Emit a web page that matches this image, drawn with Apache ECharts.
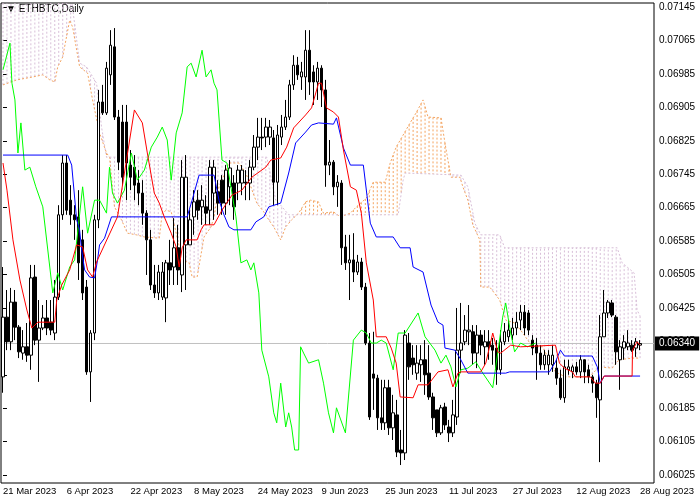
<!DOCTYPE html>
<html>
<head>
<meta charset="utf-8">
<script src="https://cdn.jsdelivr.net/npm/echarts@6/dist/echarts.min.js"></script>
<style>
  html, body { margin: 0; padding: 0; background: #fff; }
  #chart { width: 700px; height: 500px; }
</style>
</head>
<body>
<div id="chart"></div>
<script>
// 日线：2023-03-21 起，共 161 根，右侧留 3 格空位
const startDate = new Date(Date.UTC(2023, 2, 21))
const dayCount = 161
const slotCount = 164
const monthNames = ['Jan', 'Feb', 'Mar', 'Apr', 'May', 'Jun', 'Jul', 'Aug', 'Sep', 'Oct', 'Nov', 'Dec']
const dates = []
for (let i = 0; i < slotCount; i++) {
  const d = new Date(startDate.getTime() + i * 86400000)
  dates.push(d.getUTCDate() + ' ' + monthNames[d.getUTCMonth()] + ' ' + d.getUTCFullYear())
}

// K 线 [open, close, low, high]
const candles = [
  [0.06260,0.06403,0.06222,0.06523],[0.06403,0.06344,0.06324,0.06468],[0.06344,0.06439,0.06324,0.06473],[0.06439,0.06379,0.06348,0.06468],
  [0.06379,0.06320,0.06305,0.06384],[0.06317,0.06332,0.06301,0.06372],[0.06332,0.06312,0.06296,0.06389],[0.06312,0.06497,0.06277,0.06528],
  [0.06499,0.06348,0.06336,0.06528],[0.06348,0.06377,0.06248,0.06444],[0.06377,0.06401,0.06372,0.06432],[0.06401,0.06377,0.06360,0.06444],
  [0.06391,0.06372,0.06360,0.06444],[0.06365,0.06451,0.06348,0.06492],[0.06451,0.06648,0.06444,0.06671],[0.06648,0.06772,0.06636,0.06791],
  [0.06772,0.06659,0.06648,0.06791],[0.06683,0.06648,0.06624,0.06719],[0.06648,0.06636,0.06588,0.06671],[0.06643,0.06533,0.06492,0.06707],
  [0.06588,0.06461,0.06444,0.06612],[0.06475,0.06272,0.06265,0.06492],[0.06272,0.06365,0.06200,0.06372],[0.06365,0.06636,0.06348,0.06648],
  [0.06636,0.06918,0.06616,0.06947],[0.06918,0.06892,0.06887,0.06959],[0.06892,0.06999,0.06887,0.07014],[0.06983,0.07054,0.06959,0.07090],
  [0.07050,0.06882,0.06875,0.07095],[0.06882,0.06774,0.06755,0.06899],[0.06870,0.06738,0.06719,0.06911],[0.06870,0.06772,0.06683,0.06911],
  [0.06767,0.06738,0.06707,0.06803],[0.06762,0.06719,0.06683,0.06791],[0.06724,0.06700,0.06671,0.06755],[0.06700,0.06652,0.06624,0.06731],
  [0.06652,0.06588,0.06504,0.06659],[0.06588,0.06480,0.06468,0.06612],[0.06480,0.06461,0.06449,0.06528],[0.06461,0.06511,0.06444,0.06528],
  [0.06451,0.06511,0.06444,0.06535],[0.06449,0.06533,0.06391,0.06540],[0.06533,0.06516,0.06480,0.06588],[0.06523,0.06569,0.06480,0.06640],
  [0.06569,0.06516,0.06480,0.06624],[0.06504,0.06738,0.06463,0.06779],[0.06576,0.06738,0.06468,0.06791],[0.06576,0.06636,0.06576,0.06659],
  [0.06643,0.06679,0.06600,0.06707],[0.06683,0.06659,0.06636,0.06707],[0.06667,0.06683,0.06624,0.06719],[0.06667,0.06652,0.06624,0.06695],
  [0.06659,0.06762,0.06624,0.06779],[0.06700,0.06762,0.06636,0.06779],[0.06703,0.06676,0.06648,0.06731],[0.06731,0.06676,0.06648,0.06743],
  [0.06676,0.06755,0.06648,0.06767],[0.06715,0.06760,0.06671,0.06779],[0.06724,0.06667,0.06636,0.06743],[0.06724,0.06755,0.06683,0.06767],
  [0.06724,0.06755,0.06695,0.06767],[0.06726,0.06724,0.06683,0.06755],[0.06724,0.06762,0.06683,0.06779],[0.06762,0.06810,0.06755,0.06839],
  [0.06810,0.06834,0.06779,0.06880],[0.06834,0.06832,0.06803,0.06880],[0.06834,0.06858,0.06810,0.06880],[0.06834,0.06858,0.06815,0.06875],
  [0.06832,0.06726,0.06671,0.06851],[0.06726,0.06839,0.06671,0.06863],[0.06834,0.06858,0.06815,0.06887],[0.06858,0.06882,0.06851,0.06923],
  [0.06882,0.06959,0.06875,0.06971],[0.06959,0.07006,0.06947,0.07030],[0.07006,0.06983,0.06971,0.07026],[0.06978,0.06990,0.06947,0.07014],
  [0.06978,0.07042,0.06923,0.07090],[0.07042,0.06966,0.06935,0.07090],[0.06990,0.06966,0.06911,0.07006],[0.06966,0.06999,0.06923,0.07014],
  [0.06999,0.06947,0.06906,0.07006],[0.06947,0.06767,0.06715,0.06971],[0.06767,0.06774,0.06743,0.06827],[0.06774,0.06715,0.06695,0.06779],
  [0.06715,0.06726,0.06667,0.06743],[0.06724,0.06569,0.06528,0.06731],[0.06571,0.06533,0.06516,0.06600],[0.06533,0.06540,0.06444,0.06600],
  [0.06540,0.06511,0.06487,0.06604],[0.06511,0.06535,0.06504,0.06552],[0.06535,0.06475,0.06468,0.06545],[0.06475,0.06341,0.06336,0.06485],
  [0.06341,0.06164,0.06157,0.06365],[0.06267,0.06257,0.06181,0.06368],[0.06257,0.06162,0.06133,0.06265],[0.06162,0.06150,0.06133,0.06253],
  [0.06150,0.06234,0.06133,0.06253],[0.06234,0.06138,0.06121,0.06253],[0.06138,0.06174,0.06109,0.06217],[0.06169,0.06080,0.06068,0.06205],
  [0.06085,0.06078,0.06049,0.06133],[0.06078,0.06360,0.06061,0.06372],[0.06341,0.06284,0.06253,0.06365],[0.06305,0.06289,0.06265,0.06336],
  [0.06269,0.06293,0.06253,0.06336],[0.06289,0.06301,0.06248,0.06336],[0.06301,0.06265,0.06217,0.06348],[0.06269,0.06212,0.06205,0.06336],
  [0.06212,0.06162,0.06133,0.06222],[0.06181,0.06126,0.06116,0.06181],[0.06126,0.06186,0.06121,0.06193],[0.06188,0.06145,0.06133,0.06198],
  [0.06140,0.06126,0.06104,0.06157],[0.06126,0.06169,0.06116,0.06205],[0.06164,0.06324,0.06145,0.06425],[0.06324,0.06341,0.06269,0.06437],
  [0.06344,0.06372,0.06336,0.06408],[0.06368,0.06372,0.06336,0.06432],[0.06368,0.06317,0.06289,0.06384],[0.06317,0.06360,0.06281,0.06384],
  [0.06360,0.06336,0.06312,0.06372],[0.06332,0.06344,0.06289,0.06372],[0.06344,0.06332,0.06301,0.06372],[0.06336,0.06324,0.06289,0.06353],
  [0.06329,0.06277,0.06241,0.06348],[0.06277,0.06344,0.06265,0.06372],[0.06344,0.06368,0.06336,0.06389],[0.06356,0.06372,0.06344,0.06396],
  [0.06360,0.06377,0.06348,0.06401],[0.06377,0.06391,0.06360,0.06415],[0.06396,0.06415,0.06372,0.06432],[0.06415,0.06377,0.06360,0.06432],
  [0.06413,0.06372,0.06360,0.06420],[0.06348,0.06329,0.06312,0.06360],[0.06336,0.06317,0.06253,0.06353],[0.06317,0.06289,0.06277,0.06336],
  [0.06289,0.06312,0.06277,0.06324],[0.06289,0.06312,0.06265,0.06324],[0.06289,0.06312,0.06272,0.06336],[0.06281,0.06257,0.06241,0.06301],
  [0.06257,0.06210,0.06205,0.06277],[0.06210,0.06284,0.06198,0.06301],[0.06277,0.06284,0.06265,0.06301],[0.06272,0.06284,0.06257,0.06289],
  [0.06284,0.06272,0.06265,0.06296],[0.06272,0.06301,0.06257,0.06312],[0.06301,0.06272,0.06245,0.06301],[0.06277,0.06260,0.06245,0.06289],
  [0.06260,0.06245,0.06222,0.06265],[0.06245,0.06210,0.06162,0.06253],[0.06205,0.06356,0.06056,0.06408],[0.06356,0.06413,0.06356,0.06468],
  [0.06413,0.06439,0.06401,0.06444],[0.06437,0.06408,0.06403,0.06444],[0.06403,0.06320,0.06289,0.06408],[0.06301,0.06332,0.06229,0.06348],
  [0.06329,0.06344,0.06301,0.06360],[0.06332,0.06341,0.06324,0.06372],[0.06336,0.06324,0.06320,0.06348],[0.06329,0.06344,0.06308,0.06353],
  [0.06336,0.06340,0.06324,0.06348]
]

// Ichimoku 各线拐点 [日序号, 价格]
const tenkan = [
  [0,0.06772],[1,0.06707],[2.5,0.06588],[4.25,0.06492],[6,0.06420],[7.25,0.06377],[8.75,0.06391],[13,0.06391],[13.5,0.06444],
  [14.75,0.06480],[16.75,0.06516],[18.5,0.06576],[20,0.06571],[21.25,0.06516],[22.5,0.06499],[23.5,0.06535],[28.75,0.06643],
  [30.5,0.06748],[33,0.06899],[35,0.06868],[36.25,0.06796],[38,0.06700],[39.25,0.06676],[40.5,0.06643],[42.25,0.06604],
  [43.5,0.06571],[44.25,0.06523],[45,0.06569],[46,0.06588],[48.75,0.06588],[49.75,0.06612],[50.5,0.06624],[53,0.06624],
  [53.5,0.06628],[55,0.06659],[57.5,0.06695],[60,0.06707],[62.5,0.06738],[66,0.06762],[67.25,0.06779],[69.75,0.06784],
  [71.25,0.06810],[73,0.06856],[76,0.06887],[77.5,0.06904],[79.25,0.06963],[80,0.06963],[81.25,0.06904],[83,0.06894],
  [84.25,0.06882],[85.5,0.06803],[87.25,0.06715],[88.75,0.06707],[90,0.06652],[91.25,0.06533],[93,0.06444],[93.75,0.06356],
  [96.25,0.06356],[97.5,0.06329],[98.75,0.06293],[99.75,0.06212],[103,0.06210],[104.25,0.06241],[106.75,0.06241],
  [109.25,0.06272],[111.75,0.06277],[113,0.06236],[114.25,0.06269],[115,0.06272],[120,0.06272],[121.25,0.06293],
  [123,0.06365],[124.25,0.06320],[125,0.06317],[127.5,0.06336],[130,0.06332],[138.75,0.06336],[139.75,0.06293],
  [141,0.06281],[143,0.06272],[143.75,0.06260],[147.5,0.06260],[148.75,0.06245],[150,0.06245],[151,0.06262],
  [158,0.06262],[158.1,0.06324],[159.25,0.06344],[160,0.06336]
]
const kijun = [
  [0,0.06791],[16.25,0.06791],[17.25,0.06767],[18.5,0.06636],[19.25,0.06612],[19.75,0.06564],[20.5,0.06516],[21.75,0.06499],
  [23,0.06497],[23.75,0.06540],[24.25,0.06576],[25.5,0.06592],[27.25,0.06643],[46.25,0.06643],[47.5,0.06683],[49.25,0.06743],
  [53,0.06743],[54.25,0.06683],[55.5,0.06648],[56.75,0.06619],[58,0.06612],[62.25,0.06612],[63.5,0.06631],[65.5,0.06643],
  [66.75,0.06667],[69.75,0.06676],[71.75,0.06748],[73.5,0.06820],[76,0.06846],[77.5,0.06863],[79.25,0.06868],[83,0.06865],
  [83.75,0.06880],[85.5,0.06808],[87.25,0.06767],[90.5,0.06767],[92.25,0.06628],[93.75,0.06595],[98,0.06595],[99.75,0.06569],
  [102.25,0.06569],[103,0.06523],[105.5,0.06511],[106,0.06509],[107.5,0.06432],[109.25,0.06391],[110.5,0.06384],[111,0.06329],
  [113.5,0.06324],[114.75,0.06305],[116.75,0.06269],[126.25,0.06269],[127.25,0.06272],[137.25,0.06272],[138.75,0.06296],
  [140,0.06324],[141,0.06310],[148,0.06310],[149.25,0.06284],[150,0.06245],[151,0.06262],[160,0.06262]
]
const chikou = [
  [0,0.06995],[1.75,0.07059],[2.25,0.06963],[3,0.06923],[3.75,0.06796],[4.5,0.06868],[5.5,0.06755],[6.75,0.06762],[8.25,0.06715],
  [10,0.06667],[11.75,0.06523],[12.5,0.06461],[13.75,0.06509],[15,0.06468],[16.75,0.06523],[18,0.06540],[20,0.06715],
  [21.25,0.06604],[23,0.06683],[24.25,0.06683],[26,0.06652],[26.75,0.06762],[27.5,0.06700],[28.75,0.06676],[30.5,0.06707],
  [32.25,0.06796],[33.75,0.06731],[35.5,0.06755],[37.25,0.06810],[38.75,0.06834],[40,0.06858],[41.25,0.06827],[42.25,0.06731],
  [43.5,0.06844],[45,0.06892],[46.25,0.07002],[47.25,0.07011],[48.5,0.06978],[50,0.07042],[51,0.06978],[52.25,0.06995],
  [53,0.06963],[53.75,0.06947],[55,0.06779],[56.25,0.06772],[58.5,0.06643],[59.75,0.06533],[61.25,0.06540],[62.25,0.06516],
  [63,0.06533],[64.25,0.06461],[65,0.06324],[66.75,0.06260],[68,0.06174],[68.75,0.06150],[69.75,0.06245],[71,0.06140],
  [71.75,0.06174],[72.5,0.06140],[73.25,0.06085],[74.25,0.06085],[74.75,0.06332],[75.5,0.06317],[76.75,0.06293],[79.25,0.06301],
  [80.5,0.06245],[81.75,0.06174],[83,0.06126],[83.75,0.06186],[86,0.06126],[88,0.06348],[90,0.06372],[91.25,0.06365],
  [92.5,0.06341],[93.75,0.06341],[95,0.06348],[96.25,0.06341],[98,0.06277],[99.25,0.06365],[101,0.06365],[104.25,0.06413],
  [106,0.06356],[108.5,0.06324],[110,0.06293],[111.25,0.06312],[112.5,0.06284],[113.75,0.06236],[115,0.06277],[116.75,0.06281],
  [118.75,0.06296],[120.5,0.06269],[123,0.06234],[124.25,0.06317],[125.5,0.06403],[126.25,0.06437],[127.5,0.06365],
  [128.5,0.06320],[130,0.06341],[131.75,0.06332],[133.75,0.06341]
]
const spanA = [
  [0,0.06959],[3.5,0.06971],[7.5,0.06978],[10,0.06983],[11.75,0.06971],[13,0.06966],[13.75,0.07002],[15,0.07026],[16.75,0.07114],
  [17.5,0.07097],[19.25,0.07002],[21.25,0.06987],[22.5,0.06923],[24.25,0.06844],[26,0.06796],[26.75,0.06786],[28,0.06667],
  [29.75,0.06636],[31.25,0.06604],[33.5,0.06600],[35.5,0.06595],[39.25,0.06592],[40,0.06652],[41,0.06659],[42.25,0.06655],
  [43.5,0.06604],[45,0.06540],[46.75,0.06533],[47.5,0.06499],[48.75,0.06499],[50.5,0.06595],[52.25,0.06619],[53,0.06643],
  [54.25,0.06715],[56.75,0.06772],[59.25,0.06772],[61,0.06748],[62.25,0.06715],[63.75,0.06676],[65.5,0.06655],[66.75,0.06636],
  [68,0.06619],[69.75,0.06588],[71,0.06619],[72.5,0.06636],[74.25,0.06652],[76,0.06679],[77.25,0.06683],[79.25,0.06679],
  [79.75,0.06667],[80.5,0.06652],[83,0.06655],[84.75,0.06643],[87.25,0.06652],[88.75,0.06667],[91.25,0.06688],[93,0.06726],
  [96,0.06726],[97.25,0.06772],[98.75,0.06810],[100.5,0.06839],[102.25,0.06868],[103.75,0.06892],[105.5,0.06923],
  [106.75,0.06882],[110,0.06880],[111,0.06820],[112.5,0.06738],[114.75,0.06738],[115.5,0.06715],[116.75,0.06683],
  [118,0.06624],[119.75,0.06588],[120,0.06475],[122.25,0.06475],[124.75,0.06444],[126.25,0.06396],[128.5,0.06389],
  [130,0.06372],[133,0.06332],[135.5,0.06332],[138.75,0.06272],[141.25,0.06260],[147.25,0.06260],[149.75,0.06284],
  [153,0.06281],[154.75,0.06301],[158,0.06305],[160,0.06305]
]
const spanB = [
  [0,0.07160],[17.25,0.07160],[19.25,0.07011],[21,0.07002],[23.5,0.06963],[24.75,0.06858],[26,0.06786],[66.25,0.06786],
  [68.5,0.06683],[69.75,0.06671],[71.75,0.06648],[99.25,0.06648],[100.5,0.06731],[101,0.06748],[115,0.06743],[116.75,0.06715],
  [118.5,0.06628],[120,0.06600],[124.75,0.06600],[126,0.06569],[154.25,0.06569],[155.5,0.06533],[158.5,0.06509],
  [159.25,0.06420],[160,0.06406]
]

// 价格轴刻度
const priceTicks = [0.06025,0.06105,0.06185,0.06265,0.06345,0.06425,0.06505,0.06585,0.06665,0.06745,0.06825,0.06905,0.06985,0.07065,0.07145]
const lastPrice = 0.06340

const ORANGE = '#f4a460'
const THISTLE = '#d8bfd8'
const FONT = 'Liberation Sans'

// 在拐点之间取值，用于画云层竖线
function valueAt(points, d) {
  if (d <= points[0][0]) return points[0][1]
  for (let i = 1; i < points.length; i++) {
    if (d <= points[i][0]) {
      const [x0, y0] = points[i - 1]
      const [x1, y1] = points[i]
      return x1 === x0 ? y1 : y0 + (y1 - y0) * (d - x0) / (x1 - x0)
    }
  }
  return points[points.length - 1][1]
}

const chart = echarts.init(document.getElementById('chart'))

const lineSeries = (name, data, color, dashed) => ({
  name, type: 'line', xAxisIndex: 1, data, showSymbol: false, symbol: 'none',
  animation: false, z: dashed ? 2 : 4,
  lineStyle: { color, width: 1, type: dashed ? [2, 2] : 'solid' }
})

const showTick = (i) => i % 16 === 0 && i < dayCount

chart.setOption({
  backgroundColor: '#fff',
  animation: false,
  textStyle: { fontFamily: FONT },
  grid: {
    left: 1, top: 3, right: 46, bottom: 17, containLabel: false, outerBoundsMode: 'none',
    show: true, borderColor: '#000', borderWidth: 1
  },
  graphic: [{
    type: 'text', left: 6, top: 4,
    style: { text: '▼ ETHBTC,Daily', fontSize: 10, fill: '#000', fontFamily: FONT }
  }],
  xAxis: [{
    type: 'category', data: dates, boundaryGap: true,
    axisLine: { show: false },
    axisTick: { alignWithLabel: true, interval: showTick, length: 4, lineStyle: { color: '#000' } },
    axisLabel: {
      interval: showTick, align: 'left', margin: 3, fontSize: 9.5, color: '#000', fontFamily: FONT,
      showMinLabel: true, showMaxLabel: true, hideOverlap: false
    },
    splitLine: { show: false }
  }, {
    type: 'value', min: -0.5, max: slotCount - 0.5, show: false
  }],
  yAxis: {
    type: 'value', position: 'right', min: 0.06006, max: 0.07155, scale: true,
    axisLine: { show: false },
    axisTick: { show: true, length: 4, customValues: priceTicks, lineStyle: { color: '#000' } },
    axisLabel: {
      customValues: priceTicks, formatter: (v) => v.toFixed(5), fontSize: 10, color: '#000', margin: 5, fontFamily: FONT
    },
    splitLine: { show: false }
  },
  series: [
    {
      type: 'custom', xAxisIndex: 1, data: [[0]], z: 1, silent: true,
      renderItem: (params, api) => {
        const children = []
        for (let d = 0; d < dayCount; d++) {
          const a = valueAt(spanA, d)
          const b = valueAt(spanB, d)
          const p1 = api.coord([d, a])
          const p2 = api.coord([d, b])
          children.push({
            type: 'line',
            shape: { x1: p1[0], y1: p1[1], x2: p2[0], y2: p2[1] },
            style: { stroke: a > b ? ORANGE : THISTLE, lineWidth: 1, lineDash: [2, 2] }
          })
        }
        return { type: 'group', children }
      },
      clip: true
    },
    {
      name: 'Last', type: 'line', xAxisIndex: 1, symbol: 'none', silent: true, z: 1,
      data: [[-0.5, lastPrice], [slotCount - 0.5, lastPrice]],
      lineStyle: { color: '#c0c0c0', width: 1 },
      endLabel: {
        show: true, formatter: lastPrice.toFixed(5), color: '#fff', backgroundColor: '#000',
        padding: [2, 4, 2, 4], fontSize: 10, distance: 1, fontFamily: FONT
      }
    },
    lineSeries('Senkou A', spanA, ORANGE, true),
    lineSeries('Senkou B', spanB, THISTLE, true),
    {
      type: 'candlestick', data: candles, barWidth: 3, z: 3,
      itemStyle: { color: '#fff', color0: '#000', borderColor: '#000', borderColor0: '#000', borderWidth: 1 }
    },
    lineSeries('Chikou', chikou, '#00ff00', false),
    lineSeries('Kijun', kijun, '#0000ff', false),
    lineSeries('Tenkan', tenkan, '#ff0000', false)
  ]
})
</script>
</body>
</html>
